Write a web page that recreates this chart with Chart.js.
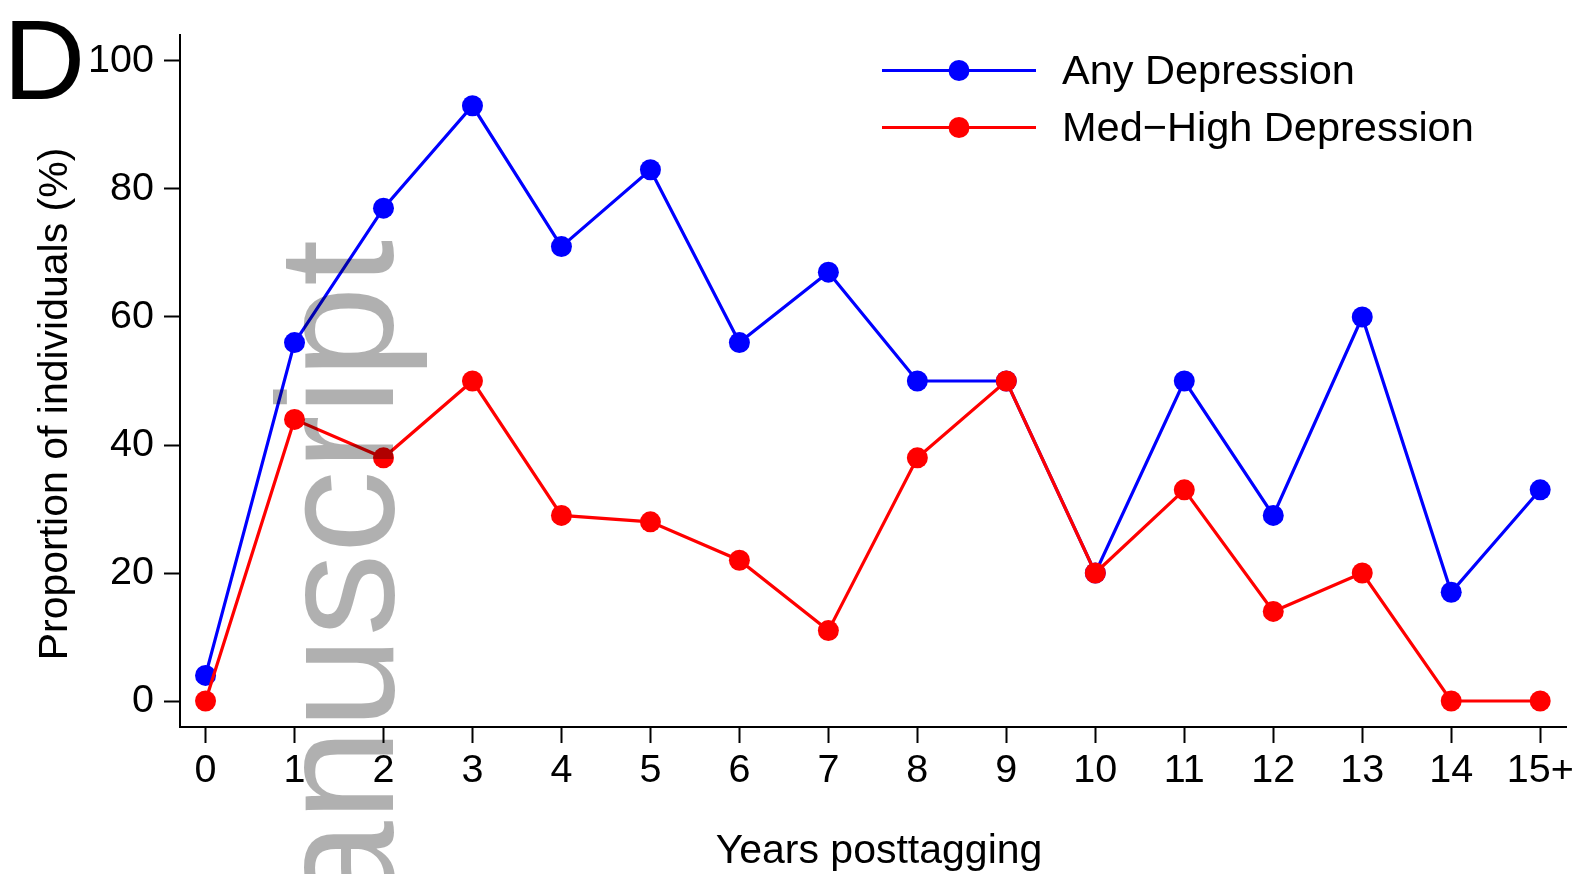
<!DOCTYPE html>
<html>
<head>
<meta charset="utf-8">
<title>Years posttagging - depression</title>
<script src="https://cdn.jsdelivr.net/npm/chart.js@4"></script>
<style>
  html, body { margin: 0; padding: 0; background: #fff; }
  canvas { display: block; }
</style>
</head>
<body>
<canvas id="chart" width="1578" height="874"></canvas>
<script>
// datos
const categories = ['0', '1', '2', '3', '4', '5', '6', '7', '8', '9', '10', '11', '12', '13', '14', '15+'];
const anyDepression = [4, 56, 77, 93, 71, 83, 56, 67, 50, 50, 20, 50, 29, 60, 17, 33];
const medHighDepression = [0, 44, 38, 50, 29, 28, 22, 11, 38, 50, 20, 33, 14, 20, 0, 0];
const yTicks = [0, 20, 40, 60, 80, 100];

const FONT = "'Liberation Sans', Arial, Helvetica, sans-serif";

function toPoints(arr) {
  return arr.map((v, i) => ({ x: i, y: v }));
}

// panel letter, titles, legend and the grey watermark
const decor = {
  id: 'decor',
  afterDraw(chart) {
    const ctx = chart.ctx;
    ctx.save();

    // panel letter
    ctx.fillStyle = '#000';
    ctx.font = '114px ' + FONT;
    ctx.textAlign = 'left';
    ctx.textBaseline = 'alphabetic';
    ctx.fillText('D', 3, 99);

    // y title
    ctx.save();
    ctx.translate(56, 404);
    ctx.rotate(-Math.PI / 2);
    ctx.font = '41px ' + FONT;
    ctx.textAlign = 'center';
    ctx.textBaseline = 'middle';
    ctx.fillText('Proportion of individuals (%)', 0, 0);
    ctx.restore();

    // x title
    ctx.font = '41px ' + FONT;
    ctx.textAlign = 'center';
    ctx.textBaseline = 'middle';
    ctx.fillText('Years posttagging', 879, 852);

    // legend
    const rows = [70.5, 127.5];
    chart.data.datasets.forEach((ds, i) => {
      const y = rows[i];
      ctx.strokeStyle = ds.borderColor;
      ctx.lineWidth = 3.2;
      ctx.beginPath();
      ctx.moveTo(882, y);
      ctx.lineTo(1036, y);
      ctx.stroke();
      ctx.fillStyle = ds.borderColor;
      ctx.beginPath();
      ctx.arc(959, y, 10.5, 0, Math.PI * 2);
      ctx.fill();
      ctx.fillStyle = '#000';
      ctx.font = '41.5px ' + FONT;
      ctx.textAlign = 'left';
      ctx.textBaseline = 'middle';
      ctx.fillText(ds.label, 1062, y + 2);
    });

    // watermark
    ctx.save();
    ctx.translate(393, 240);
    ctx.rotate(-Math.PI / 2);
    ctx.font = '166px ' + FONT;
    ctx.textAlign = 'right';
    ctx.textBaseline = 'alphabetic';
    ctx.fillStyle = 'rgba(0,0,0,0.31)';
    ctx.fillText('anuscript', 0, 0);
    ctx.restore();

    ctx.restore();
  }
};

const axisBase = {
  grid: { drawOnChartArea: false, drawTicks: true, tickLength: 16, tickColor: '#000', tickWidth: 2 },
  border: { display: true, color: '#000', width: 2 }
};

new Chart(document.getElementById('chart'), {
  type: 'line',
  data: {
    datasets: [
      {
        label: 'Any Depression',
        data: toPoints(anyDepression),
        borderColor: '#0000ff',
        backgroundColor: '#0000ff',
        borderWidth: 3.2,
        pointRadius: 10.5,
        pointHoverRadius: 10.5,
        pointBorderWidth: 0,
        pointBackgroundColor: '#0000ff',
        tension: 0,
        order: 2
      },
      {
        label: 'Med\u2212High Depression',
        data: toPoints(medHighDepression),
        borderColor: '#ff0000',
        backgroundColor: '#ff0000',
        borderWidth: 3.2,
        pointRadius: 10.5,
        pointHoverRadius: 10.5,
        pointBorderWidth: 0,
        pointBackgroundColor: '#ff0000',
        tension: 0,
        order: 1
      }
    ]
  },
  options: {
    responsive: false,
    devicePixelRatio: 1,
    animation: false,
    events: [],
    layout: { padding: { left: 0, right: 12, top: 35, bottom: 0 } },
    plugins: {
      legend: { display: false },
      tooltip: { enabled: false }
    },
    scales: {
      x: {
        ...axisBase,
        type: 'linear',
        min: -0.287,
        max: 15.29,
        afterBuildTicks: (s) => { s.ticks = categories.map((c, i) => ({ value: i })); },
        afterFit: (s) => { s.height = 147; },
        ticks: {
          callback: (v) => categories[v],
          font: { family: FONT, size: 39.5 },
          color: '#000',
          padding: 4,
          maxRotation: 0,
          autoSkip: false
        }
      },
      y: {
        ...axisBase,
        min: -4.06,
        max: 104.06,
        afterBuildTicks: (s) => { s.ticks = yTicks.map((v) => ({ value: v })); },
        afterFit: (s) => { s.width = 180; },
        ticks: {
          font: { family: FONT, size: 39.5 },
          color: '#000',
          padding: 10
        }
      }
    }
  },
  plugins: [decor]
});
</script>
</body>
</html>
